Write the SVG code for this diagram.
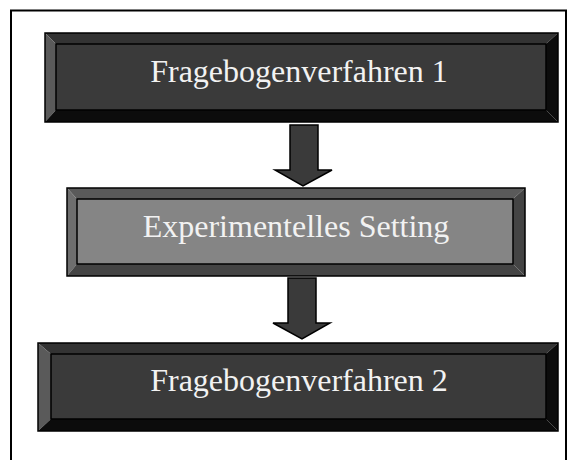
<svg xmlns="http://www.w3.org/2000/svg" width="576" height="460" viewBox="0 0 576 460">
<style>
.lbl{font-family:"Liberation Serif","Times New Roman",serif;font-size:32px;fill:#f2f2f2;text-anchor:middle}
.edge{stroke:#000;stroke-width:1.5}
.arrow{fill:#3a3a3a;stroke:#000;stroke-width:1.5;stroke-linejoin:miter}
</style>
<rect width="576" height="460" fill="#fff"/>
<path d="M11,461 V10.5 H566 V461" fill="none" stroke="#000" stroke-width="2"/>
<g id="node1">
<polygon points="45,33 558,33 546,44 56,44" fill="#333"/>
<polygon points="45,33 56,44 56,110 45,122" fill="#5a5a5a"/>
<polygon points="45,122 56,110 546,110 558,122" fill="#0c0c0c"/>
<polygon points="558,33 558,122 546,110 546,44" fill="#0c0c0c"/>
<rect x="56" y="44" width="490" height="66" fill="#3a3a3a" class="edge"/>
<rect x="45" y="33" width="513" height="89" fill="none" class="edge"/>
<text x="299" y="82" class="lbl">Fragebogenverfahren 1</text>
</g>
<g id="node2">
<polygon points="67,188 525,188 513,199 77,199" fill="#5a5a5a"/>
<polygon points="67,188 77,199 77,264 67,276" fill="#6e6e6e"/>
<polygon points="67,276 77,264 513,264 525,276" fill="#444"/>
<polygon points="525,188 525,276 513,264 513,199" fill="#444"/>
<rect x="77" y="199" width="436" height="65" fill="#858585" class="edge"/>
<rect x="67" y="188" width="458" height="88" fill="none" class="edge"/>
<text x="296" y="237" class="lbl">Experimentelles Setting</text>
</g>
<g id="node3">
<polygon points="38,343 558,343 546,354 51,354" fill="#333"/>
<polygon points="38,343 51,354 51,419 38,431" fill="#5a5a5a"/>
<polygon points="38,431 51,419 546,419 558,431" fill="#0c0c0c"/>
<polygon points="558,343 558,431 546,419 546,354" fill="#0c0c0c"/>
<rect x="51" y="354" width="495" height="65" fill="#3a3a3a" class="edge"/>
<rect x="38" y="343" width="520" height="88" fill="none" class="edge"/>
<text x="299" y="391" class="lbl">Fragebogenverfahren 2</text>
</g>
<g id="connectors">
<polygon class="arrow" points="290,125 318,125 318,170 332,170 303,186 275,170 290,170"/>
<polygon class="arrow" points="288,278 316,278 316,323 330,323 302,339 273,323 288,323"/>
</g>
</svg>
